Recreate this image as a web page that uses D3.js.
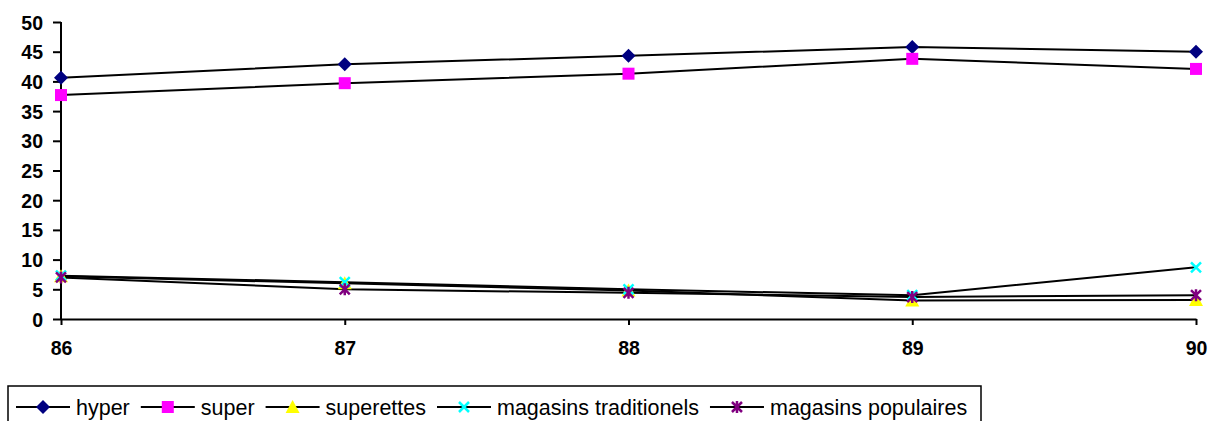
<!DOCTYPE html>
<html><head><meta charset="utf-8">
<script src="https://cdn.jsdelivr.net/npm/d3@7"></script>
<style>body{margin:0;background:#fff}svg{display:block;font-family:"Liberation Sans",Arial,sans-serif}</style>
</head><body><svg id="c" width="1210" height="421"></svg>
<script>
const years = ["86","87","88","89","90"];
const seriesNames = ["hyper","super","superettes","magasins traditionels","magasins populaires"];
const hyper = [40.6, 42.9, 44.3, 45.8, 45.0];
const superV = [37.7, 39.7, 41.3, 43.8, 42.1];
const superettes = [7.2, 6.0, 4.8, 3.1, 3.2];
const traditionels = [7.3, 6.2, 5.0, 4.0, 8.7];
const populaires = [7.0, 5.0, 4.4, 3.7, 4.0];
const yTicks = [0,5,10,15,20,25,30,35,40,45,50];

const values = [hyper, superV, superettes, traditionels, populaires];
const colors = ["#000080","#ff00ff","#ffff00","#00ffff","#800080"];
const shapes = ["diamond","square","triangle","x","star"];

const svg = d3.select("#c");
const x = d3.scalePoint().domain(years).range([61, 1196]);
const y = d3.scaleLinear().domain([0,50]).range([319, 22]);

const yAxis = svg.append("g").attr("transform","translate(61,0)")
  .call(d3.axisLeft(y).tickValues(yTicks).tickSize(8).tickPadding(10));
const xAxis = svg.append("g").attr("transform","translate(0,319)")
  .call(d3.axisBottom(x).tickSize(6).tickSizeOuter(0).tickPadding(16));
[yAxis,xAxis].forEach(a=>{
  a.attr("font-size",null).attr("font-family",null);
  a.selectAll("path,line").attr("stroke","#000").attr("stroke-width",2);
  a.selectAll("text").attr("fill","#000").style("font-size","19.5px").style("font-weight","bold");
});
yAxis.select(".domain").attr("d","M0,319V22");
yAxis.selectAll("text").attr("dy","0.36em");

function marker(g, shape, color, cx, cy){
  if(shape==="diamond"){
    g.append("path").attr("d",`M${cx},${cy-7}L${cx+7},${cy}L${cx},${cy+7}L${cx-7},${cy}Z`).attr("fill",color);
  } else if(shape==="square"){
    g.append("rect").attr("x",cx-6).attr("y",cy-6).attr("width",12).attr("height",12).attr("fill",color);
  } else if(shape==="triangle"){
    g.append("path").attr("d",`M${cx},${cy-7}L${cx+7},${cy+6}L${cx-7},${cy+6}Z`).attr("fill",color);
  } else if(shape==="x"){
    g.append("path").attr("d",`M${cx-5},${cy-5}L${cx+5},${cy+5}M${cx+5},${cy-5}L${cx-5},${cy+5}`)
      .attr("stroke",color).attr("stroke-width",2.5);
  } else {
    g.append("path").attr("d",`M${cx-5},${cy-5}L${cx+5},${cy+5}M${cx+5},${cy-5}L${cx-5},${cy+5}M${cx},${cy-6}L${cx},${cy+6}`)
      .attr("stroke",color).attr("stroke-width",2.5);
  }
}

const line = d3.line().x((d,i)=>x(years[i])).y(d=>y(d));
values.forEach((vals,si)=>{
  svg.append("path").datum(vals).attr("d",line).attr("fill","none").attr("stroke","#000").attr("stroke-width",2);
});
values.forEach((vals,si)=>{
  const g = svg.append("g");
  vals.forEach((v,i)=>marker(g, shapes[si], colors[si], x(years[i]), y(v)));
});

// legend
const leg = svg.append("g");
leg.append("rect").attr("x",8).attr("y",386).attr("width",973).attr("height",40)
  .attr("fill","#fff").attr("stroke","#000").attr("stroke-width",1.5);
let lx = 16;
seriesNames.forEach((n,i)=>{
  const cy = 407;
  leg.append("line").attr("x1",lx).attr("x2",lx+54).attr("y1",cy).attr("y2",cy).attr("stroke","#000").attr("stroke-width",2);
  marker(leg, shapes[i], colors[i], lx+27, cy);
  const t = leg.append("text").attr("x",lx+60).attr("y",cy).attr("dy","0.36em")
    .style("font-size","21.5px").text(n);
  lx += 60 + t.node().getComputedTextLength() + 11;
});
</script></body></html>
